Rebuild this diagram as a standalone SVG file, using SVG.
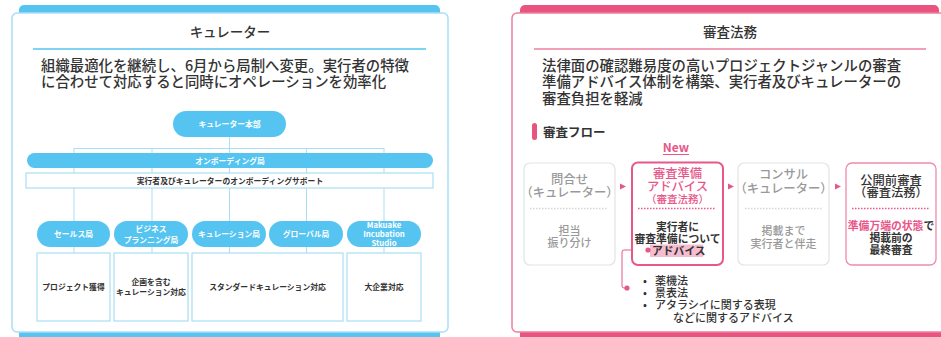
<svg xmlns="http://www.w3.org/2000/svg" width="941" height="337" viewBox="0 0 941 337">
<style>
text{font-family:"Noto Sans CJK JP","Noto Sans",sans-serif;}
.title{font-size:13.5px;fill:#333;text-anchor:middle;font-weight:500;}
.body{font-size:14.4px;fill:#333;font-weight:500;}
.pill{fill:#55c4f1;}
.pt{font-size:7.8px;fill:#fff;font-weight:700;text-anchor:middle;}
.bt{font-size:7.8px;fill:#333;font-weight:700;text-anchor:middle;}
.cl{stroke:#a9def6;stroke-width:1;fill:none;}
.box{fill:#fff;stroke:#a9def6;stroke-width:1.2;}
.gbox{fill:#fff;stroke:#e3e3e3;stroke-width:1.2;}
.gt{font-size:12.3px;fill:#999;text-anchor:middle;font-weight:500;}
.gs{font-size:11px;fill:#999;text-anchor:middle;font-weight:500;}
.pk{font-size:12.3px;fill:#e8578a;text-anchor:middle;font-weight:500;}
.dk{font-size:12.3px;fill:#333;text-anchor:middle;font-weight:500;}
.ds{font-size:10.8px;fill:#333;text-anchor:middle;font-weight:700;}
.li{font-size:11px;fill:#333;font-weight:500;}
.gdot{stroke:#d6d6d6;stroke-width:1.5;stroke-dasharray:1.5 1.5;fill:none;}
.pdot{stroke:#e8578a;stroke-width:1.5;stroke-dasharray:1.5 1.5;fill:none;}
.arr{fill:#e8578a;}
</style>
<!-- left panel -->
<g id="panel-curator">
<rect x="19" y="5" width="421" height="24" rx="5" fill="#55c4f1"/>
<rect x="19" y="320" width="421" height="17" fill="#55c4f1"/>
<rect x="12" y="13" width="436" height="319" rx="5" fill="#fff" stroke="#a9def6" stroke-width="1.5"/>
<text class="title" x="230" y="37">キュレーター</text>
<line x1="33" y1="49" x2="426" y2="49" stroke="#55c4f1" stroke-width="1.5"/>
<text class="body" x="41" y="71">組織最適化を継続し、6月から局制へ変更。実行者の特徴</text>
<text class="body" x="41" y="87">に合わせて対応すると同時にオペレーションを効率化</text>
</g>
<g id="connectors-left">
<line class="cl" x1="229.5" y1="137" x2="229.5" y2="148"/>
<line class="cl" x1="74" y1="148.5" x2="384" y2="148.5"/>
<line class="cl" x1="74" y1="148" x2="74" y2="253"/>
<line class="cl" x1="152" y1="148" x2="152" y2="253"/>
<line class="cl" x1="229.5" y1="148" x2="229.5" y2="253"/>
<line class="cl" x1="306.5" y1="148" x2="306.5" y2="253"/>
<line class="cl" x1="384" y1="148" x2="384" y2="253"/>
</g>
<g id="hq">
<rect class="pill" x="173" y="111" width="113" height="26" rx="13"/>
<text class="pt" x="229.5" y="127">キュレーター本部</text>
</g>
<g id="onboarding">
<rect class="pill" x="27" y="153" width="406" height="15" rx="7.5"/>
<text class="pt" x="230" y="163.5">オンボーディング局</text>
</g>
<g id="onboarding-support">
<rect class="box" x="26" y="173" width="407" height="15"/>
<text class="bt" x="230" y="183.5">実行者及びキュレーターのオンボーディングサポート</text>
</g>
<g id="sales">
<rect class="pill" x="37" y="221" width="73" height="26" rx="13"/>
<text class="pt" x="73.5" y="237">セールス局</text>
<rect class="box" x="37" y="253" width="73" height="68"/>
<text class="bt" x="73.5" y="290">プロジェクト獲得</text>
</g>
<g id="planning">
<rect class="pill" x="114" y="221" width="74" height="26" rx="13"/>
<text class="pt" x="151" y="232">ビジネス</text>
<text class="pt" x="151" y="242.5">プランニング局</text>
<rect class="box" x="114" y="253" width="74" height="68"/>
<text class="bt" x="151" y="285">企画を含む</text>
<text class="bt" x="151" y="295">キュレーション対応</text>
</g>
<g id="curation">
<rect class="pill" x="192" y="221" width="74" height="26" rx="13"/>
<text class="pt" x="229" y="237">キュレーション局</text>
</g>
<g id="global">
<rect class="pill" x="269" y="221" width="74" height="26" rx="13"/>
<text class="pt" x="306" y="237">グローバル局</text>
</g>
<g id="standard">
<rect class="box" x="192" y="253" width="151" height="68"/>
<text class="bt" x="267.5" y="290">スタンダードキュレーション対応</text>
</g>
<g id="mis">
<rect class="pill" x="347" y="221" width="74" height="26" rx="13"/>
<text class="pt" x="384" y="228">Makuake</text>
<text class="pt" x="384" y="237">Incubation</text>
<text class="pt" x="384" y="246">Studio</text>
<rect class="box" x="347" y="253" width="74" height="68"/>
<text class="bt" x="384" y="290">大企業対応</text>
</g>
<!-- right panel -->
<g id="panel-legal">
<rect x="520" y="5" width="419" height="24" rx="5" fill="#e8547f"/>
<rect x="520" y="320" width="430" height="17" fill="#e8547f"/>
<rect x="512" y="13" width="440" height="319" rx="5" fill="#fff" stroke="#ee7fa0" stroke-width="1.5"/>
<text class="title" x="730" y="37">審査法務</text>
<line x1="534" y1="49" x2="926" y2="49" stroke="#ee7fa0" stroke-width="1.5"/>
<text class="body" x="542" y="71">法律面の確認難易度の高いプロジェクトジャンルの審査</text>
<text class="body" x="542" y="87">準備アドバイス体制を構築、実行者及びキュレーターの</text>
<text class="body" x="542" y="104">審査負担を軽減</text>
<rect x="532" y="123" width="5" height="17" rx="2.5" fill="#e8547f"/>
<text x="543" y="137" style="font-size:12.5px;fill:#333;font-weight:700">審査フロー</text>
<text x="676" y="152" style="font-size:12px;fill:#e8578a;font-weight:700;text-anchor:middle">New</text>
<line x1="663" y1="154.5" x2="689" y2="154.5" stroke="#e8578a" stroke-width="1"/>
</g>
<g id="flow-arrows">
<polygon class="arr" points="620,183.5 626,186.5 620,189.5"/>
<polygon class="arr" points="728,183.5 734,186.5 728,189.5"/>
<polygon class="arr" points="835,183.5 841,186.5 835,189.5"/>
<path d="M647,250 H624 Q622,250 622,252 V286 Q622,288 624,288 H627" fill="none" stroke="#e8578a" stroke-width="1"/>
<circle cx="627" cy="288" r="2.6" fill="#e8578a"/>
</g>
<g id="step1">
<rect class="gbox" x="524" y="163" width="91" height="102" rx="6"/>
<text class="gt" x="569.5" y="184">問合せ</text>
<text class="gt" x="569.5" y="197">（キュレーター）</text>
<line class="gdot" x1="530" y1="208.5" x2="608" y2="208.5"/>
<text class="gs" x="569.5" y="235">担当</text>
<text class="gs" x="569.5" y="247">振り分け</text>
</g>
<g id="step2">
<rect x="632" y="162.5" width="91" height="102.5" rx="6" fill="#fff" stroke="#e8578a" stroke-width="2"/>
<text class="pk" x="677.5" y="178">審査準備</text>
<text class="pk" x="677.5" y="191">アドバイス</text>
<text class="pk" x="677.5" y="203" style="font-size:10.5px">（審査法務）</text>
<line class="pdot" x1="638" y1="208.5" x2="716" y2="208.5"/>
<rect x="650" y="244.5" width="53" height="12.5" fill="#f6bdd1"/>
<circle cx="648" cy="250" r="2.6" fill="#e8578a"/>
<text class="ds" x="677.5" y="231">実行者に</text>
<text class="ds" x="677.5" y="243">審査準備について</text>
<text class="ds" x="652" y="255" style="text-anchor:start">アドバイス</text>
</g>
<g id="step2-notes">
<text class="li" x="643" y="285">•</text>
<text class="li" x="655" y="285">薬機法</text>
<text class="li" x="643" y="297">•</text>
<text class="li" x="655" y="297">景表法</text>
<text class="li" x="643" y="309">•</text>
<text class="li" x="655" y="309">アタラシイに関する表現</text>
<text class="li" x="673" y="321.5">などに関するアドバイス</text>
</g>
<g id="step3">
<rect class="gbox" x="738" y="163" width="91" height="102" rx="6"/>
<text class="gt" x="783.5" y="179">コンサル</text>
<text class="gt" x="783.5" y="193">（キュレーター）</text>
<line class="gdot" x1="745" y1="208.5" x2="822" y2="208.5"/>
<text class="gs" x="783.5" y="235">掲載まで</text>
<text class="gs" x="783.5" y="248">実行者と伴走</text>
</g>
<g id="step4">
<rect x="846" y="163" width="90" height="102" rx="6" fill="#fff" stroke="#ef8aab" stroke-width="1.3"/>
<text class="dk" x="891" y="185">公開前審査</text>
<text class="dk" x="891" y="197">（審査法務）</text>
<line class="pdot" x1="852" y1="208.5" x2="929" y2="208.5"/>
<text class="ds" x="891" y="230"><tspan fill="#e8578a">準備万端の状態</tspan>で</text>
<text class="ds" x="891" y="242">掲載前の</text>
<text class="ds" x="891" y="254">最終審査</text>
</g>
</svg>
